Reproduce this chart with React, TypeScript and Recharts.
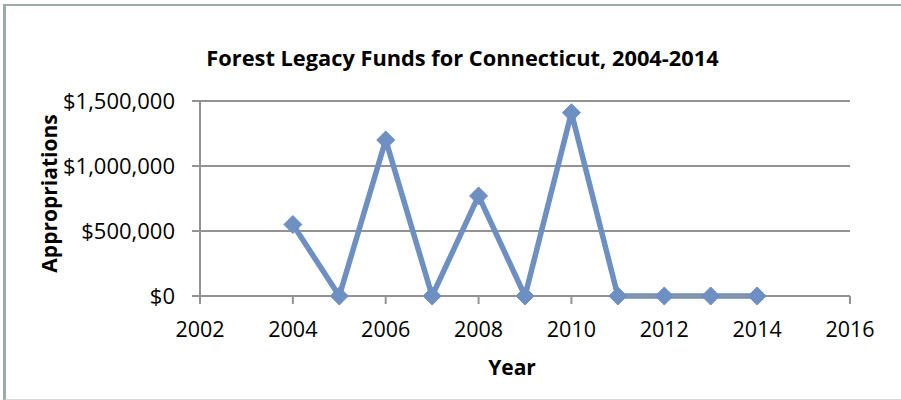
import React from "react";
import { LineChart, Line, XAxis, YAxis, CartesianGrid, Label } from "recharts";

const years = [2004, 2005, 2006, 2007, 2008, 2009, 2010, 2011, 2012, 2013, 2014];
const appropriations = [550000, 0, 1200000, 0, 770000, 0, 1410000, 0, 0, 0, 0];
const xTicks = [2002, 2004, 2006, 2008, 2010, 2012, 2014, 2016];
const yTicks = [0, 500000, 1000000, 1500000];
const titleText = "Forest Legacy Funds for Connecticut, 2004-2014";
const xAxisTitle = "Year";
const yAxisTitle = "Appropriations";

const data = years.map((y, i) => ({ year: y, value: appropriations[i] }));

const FONT = "'Open Sans', 'Noto Sans', sans-serif";
const LINE = "#6d8fc2";
const GRID = "#939393";

const fmt = (v: number) => "$" + v.toLocaleString("en-US");

const Diamond = (props: any) => {
  const { cx, cy } = props;
  if (cx == null || cy == null) return null;
  const r = 9;
  return (
    <polygon
      points={`${cx},${cy - r} ${cx + r},${cy} ${cx},${cy + r} ${cx - r},${cy}`}
      fill={LINE}
      stroke={LINE}
      strokeWidth={1}
      strokeLinejoin="round"
    />
  );
};

export default function App() {
  return (
    <div style={{ position: "absolute", left: 0, top: 0, width: 901, height: 400, background: "#fff" }}>
      <div
        style={{
          position: "absolute",
          left: 3,
          top: 4,
          width: 898,
          height: 393,
          borderTop: "2px solid #9aaca4",
          borderLeft: "3px solid #9aaca4",
          borderBottom: "2px solid #d9d9d9",
        }}
      />
      <div
        style={{
          position: "absolute",
          left: 0,
          top: 43,
          width: 925,
          textAlign: "center",
          fontFamily: FONT,
          fontWeight: 700,
          fontSize: 21.8,
          color: "#000",
        }}
      >
        {titleText}
      </div>
      <div style={{ position: "absolute", left: 0, top: 0 }}>
        <LineChart
          width={901}
          height={400}
          data={data}
          margin={{ top: 101, right: 51, bottom: 0, left: 60 }}
        >
          <CartesianGrid vertical={false} stroke={GRID} strokeWidth={2} />
          <XAxis
            dataKey="year"
            type="number"
            domain={[2002, 2016]}
            ticks={xTicks}
            allowDataOverflow
            stroke={GRID}
            strokeWidth={2}
            tickSize={8}
            tickMargin={18}
            tick={{ fill: "#000", fontSize: 21.5, fontFamily: FONT }}
            height={104}
          >
            <Label
              value={xAxisTitle}
              position="insideTop"
              offset={64}
              style={{ fill: "#000", fontSize: 21, fontWeight: 700, fontFamily: FONT }}
              dx={-13}
            />
          </XAxis>
          <YAxis
            type="number"
            domain={[0, 1500000]}
            ticks={yTicks}
            tickFormatter={fmt}
            stroke={GRID}
            strokeWidth={2}
            tickSize={8}
            tickMargin={17}
            width={140}
            tick={{ fill: "#000", fontSize: 22, fontFamily: FONT }}
          >
            <Label
              value={yAxisTitle}
              angle={-90}
              position="insideLeft"
              offset={-10}
              dy={-5}
              style={{ fill: "#000", fontSize: 21, fontWeight: 700, fontFamily: FONT, textAnchor: "middle" }}
            />
          </YAxis>
          <Line
            dataKey="value"
            stroke={LINE}
            strokeWidth={5.5}
            dot={<Diamond />}
            activeDot={false}
            isAnimationActive={false}
          />
        </LineChart>
      </div>
    </div>
  );
}
